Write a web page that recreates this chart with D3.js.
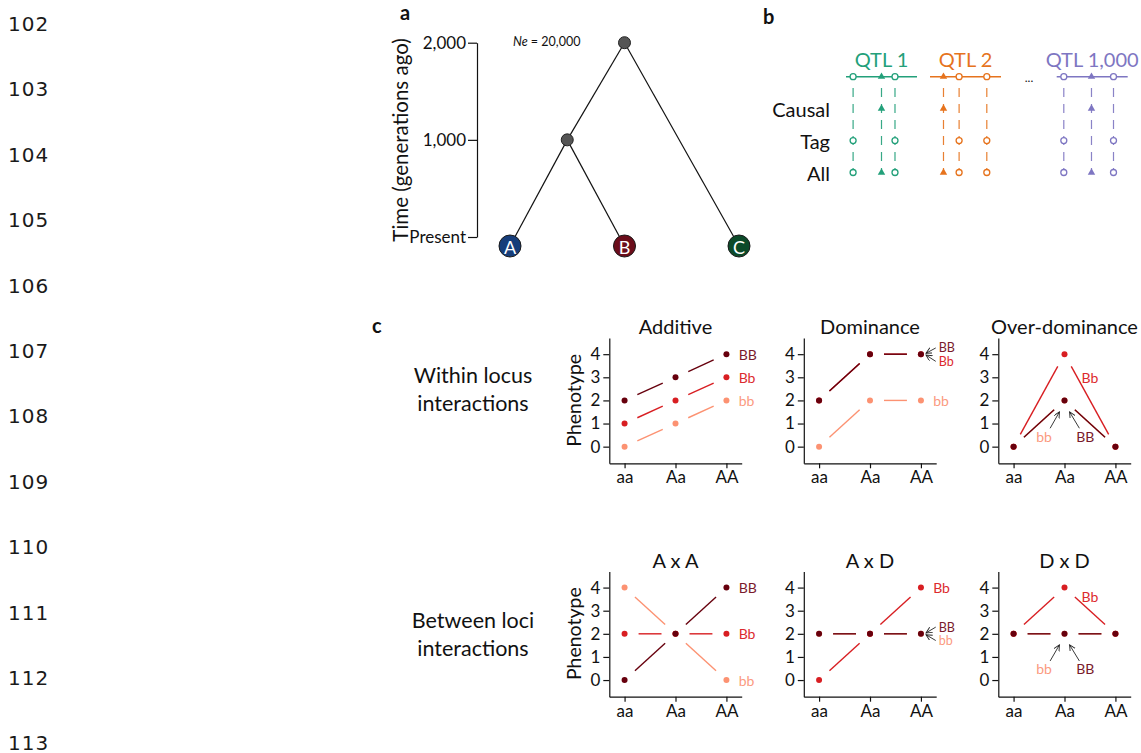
<!DOCTYPE html>
<html>
<head>
<meta charset="utf-8">
<script src="https://cdn.jsdelivr.net/npm/d3@7"></script>
<style>
body { margin: 0; background: #fff; }
svg text { font-family: Lato, "Open Sans", sans-serif; fill: #111; }
.axis path, .axis line { stroke: #111; stroke-width: 1.2; }
.axis text { font-family: Lato, sans-serif; fill: #111; }
</style>
</head>
<body>
<svg id="fig" width="1141" height="753"></svg>
<script>
// ---------- data ----------
var lineNumbers = d3.range(102, 114);

// panel a: coalescent tree
var timeTicks = [0, 1000, 2000];
var leaves = ["A", "B", "C"];
var leafColors = ["#163d7a", "#6b0d1b", "#0c4a29"];
var innerNodes = [
    {name: "AB", time: 1000, kids: ["A", "B"]},
    {name: "root", time: 2000, kids: ["AB", "C"]}
];

// panel b: QTL schematic
var qtlNames = ["QTL 1", "QTL 2", "QTL 1,000"];
var qtlColors = ["#23a07a", "#e6731d", "#7e76c2"];
var snpPos = [[0.10, 0.50, 0.69], [0.19, 0.41, 0.80], [0.10, 0.49, 0.80]];
var snpCausal = [[false, true, false], [true, false, false], [false, true, false]];
var rowNames = ["Causal", "Tag", "All"];

// panel c: genotype x phenotype
var genotypes = ["aa", "Aa", "AA"];
var phenoTicks = [0, 1, 2, 3, 4];
var panelTitles = ["Additive", "Dominance", "Over-dominance", "A x A", "A x D", "D x D"];
var phenoBB = [[2, 3, 4], [2, 4, 4], [0, 2, 0], [0, 2, 4], [2, 2, 2], [2, 2, 2]];
var phenoBb = [[1, 2, 3], [2, 4, 4], [0, 4, 0], [2, 2, 2], [0, 2, 4], [2, 4, 2]];
var phenobb = [[0, 1, 2], [0, 2, 2], [0, 2, 0], [4, 2, 0], [2, 2, 2], [2, 2, 2]];
var seriesNames = ["bb", "Bb", "BB"];
var dotColors = {bb: "#fc9272", Bb: "#d81e22", BB: "#67000d"};
var textColors = {bb: "#fb9a80", Bb: "#dc2a2e", BB: "#7a1a2c"};
var rowLabels = [["Within locus", "interactions"], ["Between loci", "interactions"]];

// label placement: panel, text, x (genotype units), y (phenotype units), arrow end or null
var labels = [
    [0, "BB", 2.24, 4], [0, "Bb", 2.24, 3], [0, "bb", 2.24, 2],
    [1, "BB", 2.35, 4.27, [2.1, 4.04]], [1, "Bb", 2.35, 3.69, [2.1, 3.96]], [1, "bb", 2.24, 2],
    [2, "Bb", 1.5, 3.0], [2, "bb", 0.6, 0.45, [0.9, 1.5]], [2, "BB", 1.41, 0.45, [1.1, 1.5]],
    [3, "BB", 2.24, 4], [3, "Bb", 2.24, 2], [3, "bb", 2.24, 0],
    [4, "Bb", 2.24, 4], [4, "BB", 2.35, 2.29, [2.1, 2.04]], [4, "bb", 2.35, 1.71, [2.1, 1.96]],
    [5, "Bb", 1.5, 3.6], [5, "bb", 0.6, 0.48, [0.9, 1.52]], [5, "BB", 1.41, 0.48, [1.1, 1.52]]
];

// ---------- drawing ----------
var svg = d3.select("#fig");

svg.append("defs").append("marker")
    .attr("id", "arr")
    .attr("markerUnits", "userSpaceOnUse")
    .attr("markerWidth", 8).attr("markerHeight", 8)
    .attr("refX", 6).attr("refY", 3)
    .attr("orient", "auto")
    .append("path")
    .attr("d", "M0,0 L6,3 L0,6")
    .attr("fill", "none")
    .attr("stroke", "#222")
    .attr("stroke-width", 0.9);

// line numbers down the margin
svg.selectAll(".lineno").data(lineNumbers).enter().append("text")
    .attr("class", "lineno")
    .attr("x", 8)
    .attr("y", (d, i) => 24 + i * 65.4)
    .attr("dominant-baseline", "central")
    .style("font-family", "'DejaVu Sans', sans-serif")
    .style("font-size", "20px")
    .style("letter-spacing", "1px")
    .style("fill", "#1a1a1a")
    .text(d => d);

// panel letters
var letters = [["a", 400, 20], ["b", 763, 24], ["c", 372, 333]];
letters.forEach(l => {
    svg.append("text").attr("x", l[1]).attr("y", l[2])
        .style("font-weight", "bold").style("font-size", "20px").text(l[0]);
});

// ----- panel a -----
var yTime = d3.scaleLinear().domain([0, 2000]).range([237, 42.7]);
var xLeaf = d3.scalePoint().domain(leaves).range([510, 739]);
var leafDrop = 9;

var nodes = {};
leaves.forEach((l, i) => {
    nodes[l] = {x: xLeaf(l), y: yTime(0) + leafDrop, tips: [xLeaf(l)]};
});
innerNodes.forEach(n => {
    var tips = [];
    n.kids.forEach(k => { tips = tips.concat(nodes[k].tips); });
    nodes[n.name] = {x: (d3.min(tips) + d3.max(tips)) / 2, y: yTime(n.time), tips: tips};
});

var gA = svg.append("g");
innerNodes.forEach(n => {
    n.kids.forEach(k => {
        gA.append("line")
            .attr("x1", nodes[n.name].x).attr("y1", nodes[n.name].y)
            .attr("x2", nodes[k].x).attr("y2", nodes[k].y)
            .attr("stroke", "#111").attr("stroke-width", 1.2);
    });
});
innerNodes.forEach(n => {
    gA.append("circle")
        .attr("cx", nodes[n.name].x).attr("cy", nodes[n.name].y).attr("r", 6)
        .attr("fill", "#555").attr("stroke", "#222").attr("stroke-width", 1);
});
leaves.forEach((l, i) => {
    gA.append("circle")
        .attr("cx", nodes[l].x).attr("cy", nodes[l].y).attr("r", 11)
        .attr("fill", leafColors[i]).attr("stroke", "#1a1a1a").attr("stroke-width", 1);
    gA.append("text")
        .attr("x", nodes[l].x).attr("y", nodes[l].y + 1)
        .attr("text-anchor", "middle").attr("dominant-baseline", "central")
        .style("fill", "#fff").style("font-size", "18px").text(l);
});

var timeAxis = d3.axisLeft(yTime)
    .tickValues(timeTicks)
    .tickSize(9).tickSizeOuter(0).tickPadding(2)
    .tickFormat(d => d === 0 ? "Present" : d3.format(",")(d));
gA.append("g").attr("class", "axis")
    .attr("transform", "translate(477,0)")
    .call(timeAxis)
    .selectAll("text").style("font-size", "17px");

gA.append("text")
    .attr("transform", "translate(400," + 140 + ") rotate(-90)")
    .attr("text-anchor", "middle").attr("dominant-baseline", "central")
    .style("font-size", "20.5px").text("Time (generations ago)");

var neText = gA.append("text").attr("x", 513).attr("y", 46).style("font-size", "12.5px");
neText.append("tspan").style("font-style", "italic").text("Ne");
neText.append("tspan").text(" = 20,000");

// ----- panel b -----
var blockStart = [846, 930, 1056.7];
var blockWidth = 71;
var yRow = d3.scalePoint().domain(["line"].concat(rowNames)).range([76.7, 172.5]);
var tri = d3.symbol().type(d3.symbolTriangle).size(24);
var gB = svg.append("g");

rowNames.forEach(r => {
    gB.append("text").attr("x", 830).attr("y", yRow(r))
        .attr("text-anchor", "end").attr("dominant-baseline", "central")
        .style("font-size", "20px").text(r);
});

qtlNames.forEach((q, qi) => {
    var xs = d3.scaleLinear().domain([0, 1]).range([blockStart[qi], blockStart[qi] + blockWidth]);
    var col = qtlColors[qi];
    var g = gB.append("g");
    g.append("text").attr("x", xs(0.5)).attr("y", 59)
        .attr("text-anchor", "middle").attr("dominant-baseline", "central")
        .style("font-size", "20px").style("fill", col).text(q);
    g.append("line")
        .attr("x1", xs(0)).attr("x2", xs(1))
        .attr("y1", yRow("line")).attr("y2", yRow("line"))
        .attr("stroke", col).attr("stroke-width", 1.5);

    snpPos[qi].forEach((p, si) => {
        var causal = snpCausal[qi][si];
        g.append("line")
            .attr("x1", xs(p)).attr("x2", xs(p))
            .attr("y1", 88).attr("y2", yRow("All"))
            .attr("stroke", col).attr("stroke-width", 1.2)
            .attr("stroke-dasharray", "9,7").attr("opacity", 0.9);
        var rows = ["line", "All", causal ? "Causal" : "Tag"];
        rows.forEach(r => {
            if (causal) {
                g.append("path").attr("d", tri)
                    .attr("transform", "translate(" + xs(p) + "," + yRow(r) + ")")
                    .attr("fill", col);
            } else {
                g.append("circle").attr("cx", xs(p)).attr("cy", yRow(r)).attr("r", 3)
                    .attr("fill", "#fff").attr("stroke", col).attr("stroke-width", 1.3);
            }
        });
    });
});
gB.append("text").attr("x", 1029).attr("y", 77)
    .attr("text-anchor", "middle").attr("dominant-baseline", "central")
    .style("font-size", "12px").text("...");

// ----- panel c -----
rowLabels.forEach((lab, ri) => {
    var base = ri === 0 ? 383 : 628;
    lab.forEach((t, li) => {
        svg.append("text").attr("x", 473).attr("y", base + li * 28)
            .attr("text-anchor", "middle").style("font-size", "21.5px").text(t);
    });
});

var seriesData = {BB: phenoBB, Bb: phenoBb, bb: phenobb};

panelTitles.forEach((title, k) => {
    var col = k % 3, row = Math.floor(k / 3);
    var x0 = 609.3 + col * 194.5;
    var yb = 463.3 + row * 233.4;
    var x = d3.scaleLinear().domain([-0.3, 2.3]).range([x0, x0 + 132.4]);
    var y = d3.scaleLinear().domain([-0.72, 4.7]).range([yb, yb - 125.3]);
    var g = svg.append("g");

    g.append("g").attr("class", "axis")
        .attr("transform", "translate(" + x0 + ",0)")
        .call(d3.axisLeft(y).tickValues(phenoTicks).tickFormat(d3.format("d"))
            .tickSize(6).tickSizeOuter(0).tickPadding(3))
        .selectAll("text").style("font-size", "17px");
    g.append("g").attr("class", "axis")
        .attr("transform", "translate(0," + yb + ")")
        .call(d3.axisBottom(x).tickValues([0, 1, 2]).tickFormat(i => genotypes[i])
            .tickSize(5).tickSizeOuter(0).tickPadding(3))
        .selectAll("text").style("font-size", "17px");

    g.append("text").attr("x", x(1)).attr("y", yb - 129)
        .attr("text-anchor", "middle").style("font-size", "20px").text(title);

    if (col === 0) {
        g.append("text")
            .attr("transform", "translate(573," + (yb - 63) + ") rotate(-90)")
            .attr("text-anchor", "middle").attr("dominant-baseline", "central")
            .style("font-size", "19.5px").text("Phenotype");
    }

    var gap = 14;
    seriesNames.forEach(s => {
        var vals = seriesData[s][k];
        for (var i = 0; i < 2; i++) {
            var x1 = x(i), y1 = y(vals[i]), x2 = x(i + 1), y2 = y(vals[i + 1]);
            var len = Math.hypot(x2 - x1, y2 - y1), ux = (x2 - x1) / len, uy = (y2 - y1) / len;
            g.append("line")
                .attr("x1", x1 + ux * gap).attr("y1", y1 + uy * gap)
                .attr("x2", x2 - ux * gap).attr("y2", y2 - uy * gap)
                .attr("stroke", dotColors[s]).attr("stroke-width", 1.4);
        }
        g.selectAll(".dot-" + s).data(vals).enter().append("circle")
            .attr("cx", (d, i) => x(i)).attr("cy", d => y(d)).attr("r", 3)
            .attr("fill", dotColors[s]);
    });

    labels.filter(l => l[0] === k).forEach(l => {
        var anchor = l[2] > 2 ? "start" : "middle";
        var arrowPair = !!l[4] && l[2] > 2;
        g.append("text").attr("x", x(l[2])).attr("y", y(l[3]))
            .attr("text-anchor", anchor).attr("dominant-baseline", "central")
            .style("font-size", arrowPair ? "12.5px" : "14px")
            .style("fill", textColors[l[1]]).text(l[1]);
        if (l[4]) {
            var sx = l[2] > 2 ? x(l[2]) - 3 : x(l[2]) + (l[2] < 1 ? 6 : -6);
            var sy = l[2] > 2 ? y(l[3]) : y(l[3]) - 8;
            g.append("line")
                .attr("x1", sx).attr("y1", sy)
                .attr("x2", x(l[4][0])).attr("y2", y(l[4][1]))
                .attr("stroke", "#222").attr("stroke-width", 0.9)
                .attr("marker-end", "url(#arr)");
        }
    });
});
</script>
</body>
</html>
